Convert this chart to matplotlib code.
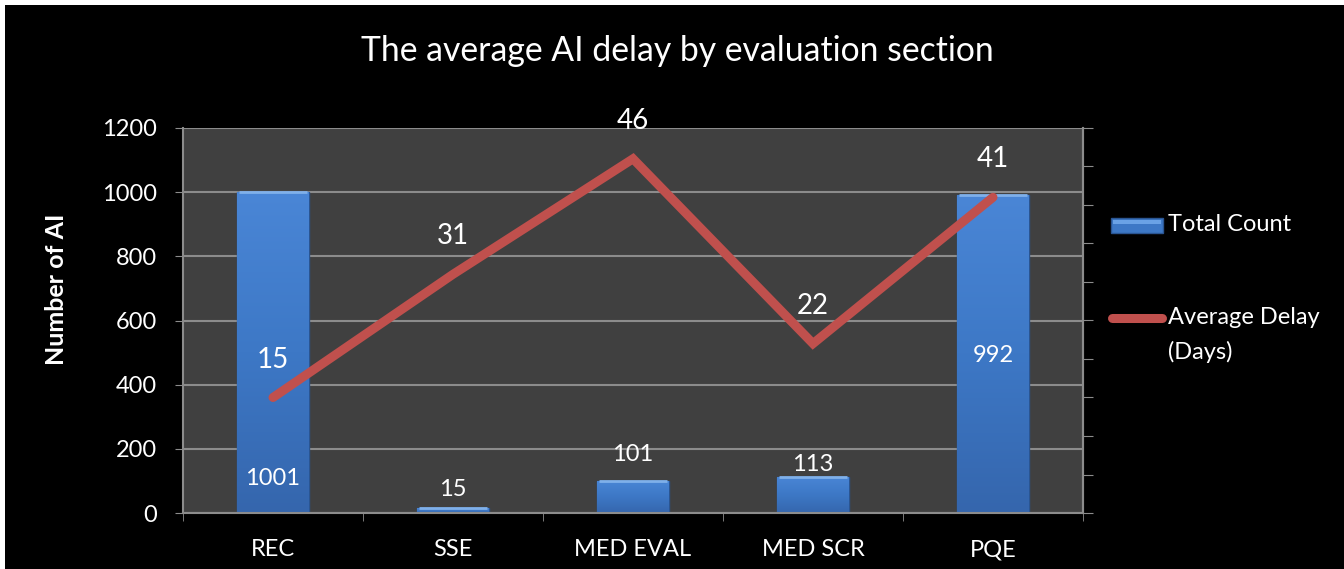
import matplotlib.pyplot as plt
from matplotlib.patches import Rectangle
from matplotlib.lines import Line2D
import numpy as np

categories = ['REC', 'SSE', 'MED EVAL', 'MED SCR', 'PQE']
total_count = [1001, 15, 101, 113, 992]
avg_delay = [15, 31, 46, 22, 41]
# where the count labels sit (in axis units), as placed in the original
count_label_y = [109, 72, 181, 150, 492]

plt.rcParams['font.family'] = ['Lato', 'DejaVu Sans']

W, H = 1344, 569
fig = plt.figure(figsize=(W / 100, H / 100), dpi=100, facecolor='white')
# black chart area with a thin white strip top/left
fig.patches.append(Rectangle((5 / W, 0), 1, 1 - 5 / H, transform=fig.transFigure,
                             facecolor='black', edgecolor='none', zorder=-10))

ax = fig.add_axes([183 / W, 1 - 513 / H, 900 / W, 385 / H])
ax.set_facecolor('#404040')
grid_col = '#8c8c8c'
red = '#c0504d'

x = np.arange(len(categories))
bar_w = 0.4
bars = ax.bar(x, total_count, width=bar_w, color='#3b74c2', edgecolor='#2a5592',
              linewidth=1, zorder=2)

# vertical gradient on each bar
grad = np.linspace(0, 1, 256).reshape(-1, 1)
cmap = plt.matplotlib.colors.LinearSegmentedColormap.from_list(
    'bargrad', ['#3566ad', '#3d78c6', '#4a86d6'])
for b in bars:
    x0, w, h = b.get_x(), b.get_width(), b.get_height()
    im = ax.imshow(grad, extent=[x0, x0 + w, 0, h], origin='lower', aspect='auto',
                   cmap=cmap, zorder=2.1)
    im.set_clip_path(b)
    # light top bevel
    ax.plot([x0 + w * 0.03, x0 + w * 0.97], [h, h], color='#7fb0ea', lw=2, zorder=2.2,
            solid_capstyle='butt')

for xi, v, ly in zip(x, total_count, count_label_y):
    ax.text(xi, ly, str(v), ha='center', va='center', color='white', fontsize=17, zorder=5)

ax.set_xlim(-0.5, len(categories) - 0.5)
ax.set_ylim(0, 1200)
ax.set_yticks(np.arange(0, 1201, 200))
ax.set_xticks(x)
ax.set_xticklabels(categories)
ax.set_xticks(np.arange(-0.5, len(categories), 1), minor=True)
ax.tick_params(axis='x', which='major', length=0, pad=19, labelsize=17, labelcolor='white')
ax.tick_params(axis='x', which='minor', length=6, color=grid_col, direction='out')
ax.tick_params(axis='y', length=6, color=grid_col, labelsize=17, labelcolor='white', pad=13)
ax.yaxis.grid(True, color=grid_col, lw=1.5, zorder=1)
ax.set_axisbelow(True)
for s in ax.spines.values():
    s.set_color(grid_col)
    s.set_linewidth(1.5)
ax.spines['top'].set_visible(False)
ax.set_ylabel('Number of AI', color='white', fontsize=18, fontweight='bold')
ax.yaxis.set_label_coords(-0.128, 0.58)

ax2 = ax.twinx()
ax2.plot(x, avg_delay, color=red, lw=6.5, solid_capstyle='round',
         solid_joinstyle='miter', zorder=4)
ax2.set_ylim(0, 50)
ax2.set_yticks(np.arange(0, 51, 5))
ax2.set_yticklabels([])
ax2.tick_params(axis='y', length=7, color=grid_col)
for s in ax2.spines.values():
    s.set_visible(False)
ax2.spines['right'].set_visible(True)
ax2.spines['right'].set_color(grid_col)
ax2.spines['right'].set_linewidth(1.5)
for xi, d in zip(x, avg_delay):
    ax2.annotate(str(d), (xi, d), xytext=(0, 38), textcoords='offset pixels',
                 ha='center', va='center', color='white', fontsize=20)

fig.text(677 / W, 1 - 51 / H, 'The average AI delay by evaluation section',
         ha='center', va='center', color='white', fontsize=24.3)

# legend, drawn by hand so the line sits level with the first text line
fig.add_artist(Rectangle((1111 / W, 1 - 233 / H), 52 / W, 15 / H,
                         transform=fig.transFigure, facecolor='#3d78c6',
                         edgecolor='#2a5592', lw=1))
fig.add_artist(Rectangle((1113 / W, 1 - 224 / H), 48 / W, 4 / H,
                         transform=fig.transFigure, facecolor='#6aa2e6',
                         edgecolor='none'))
fig.add_artist(Line2D([1112 / W, 1162 / W], [1 - 318 / H, 1 - 318 / H],
                      transform=fig.transFigure, color=red, lw=6.5,
                      solid_capstyle='round'))
fig.text(1168 / W, 1 - 225 / H, 'Total Count', ha='left', va='center',
         color='white', fontsize=17)
fig.text(1168 / W, 1 - 318 / H, 'Average Delay', ha='left', va='center',
         color='white', fontsize=17)
fig.text(1168 / W, 1 - 352 / H, '(Days)', ha='left', va='center',
         color='white', fontsize=17)

fig.savefig('out.png', dpi=100, facecolor=fig.get_facecolor())
